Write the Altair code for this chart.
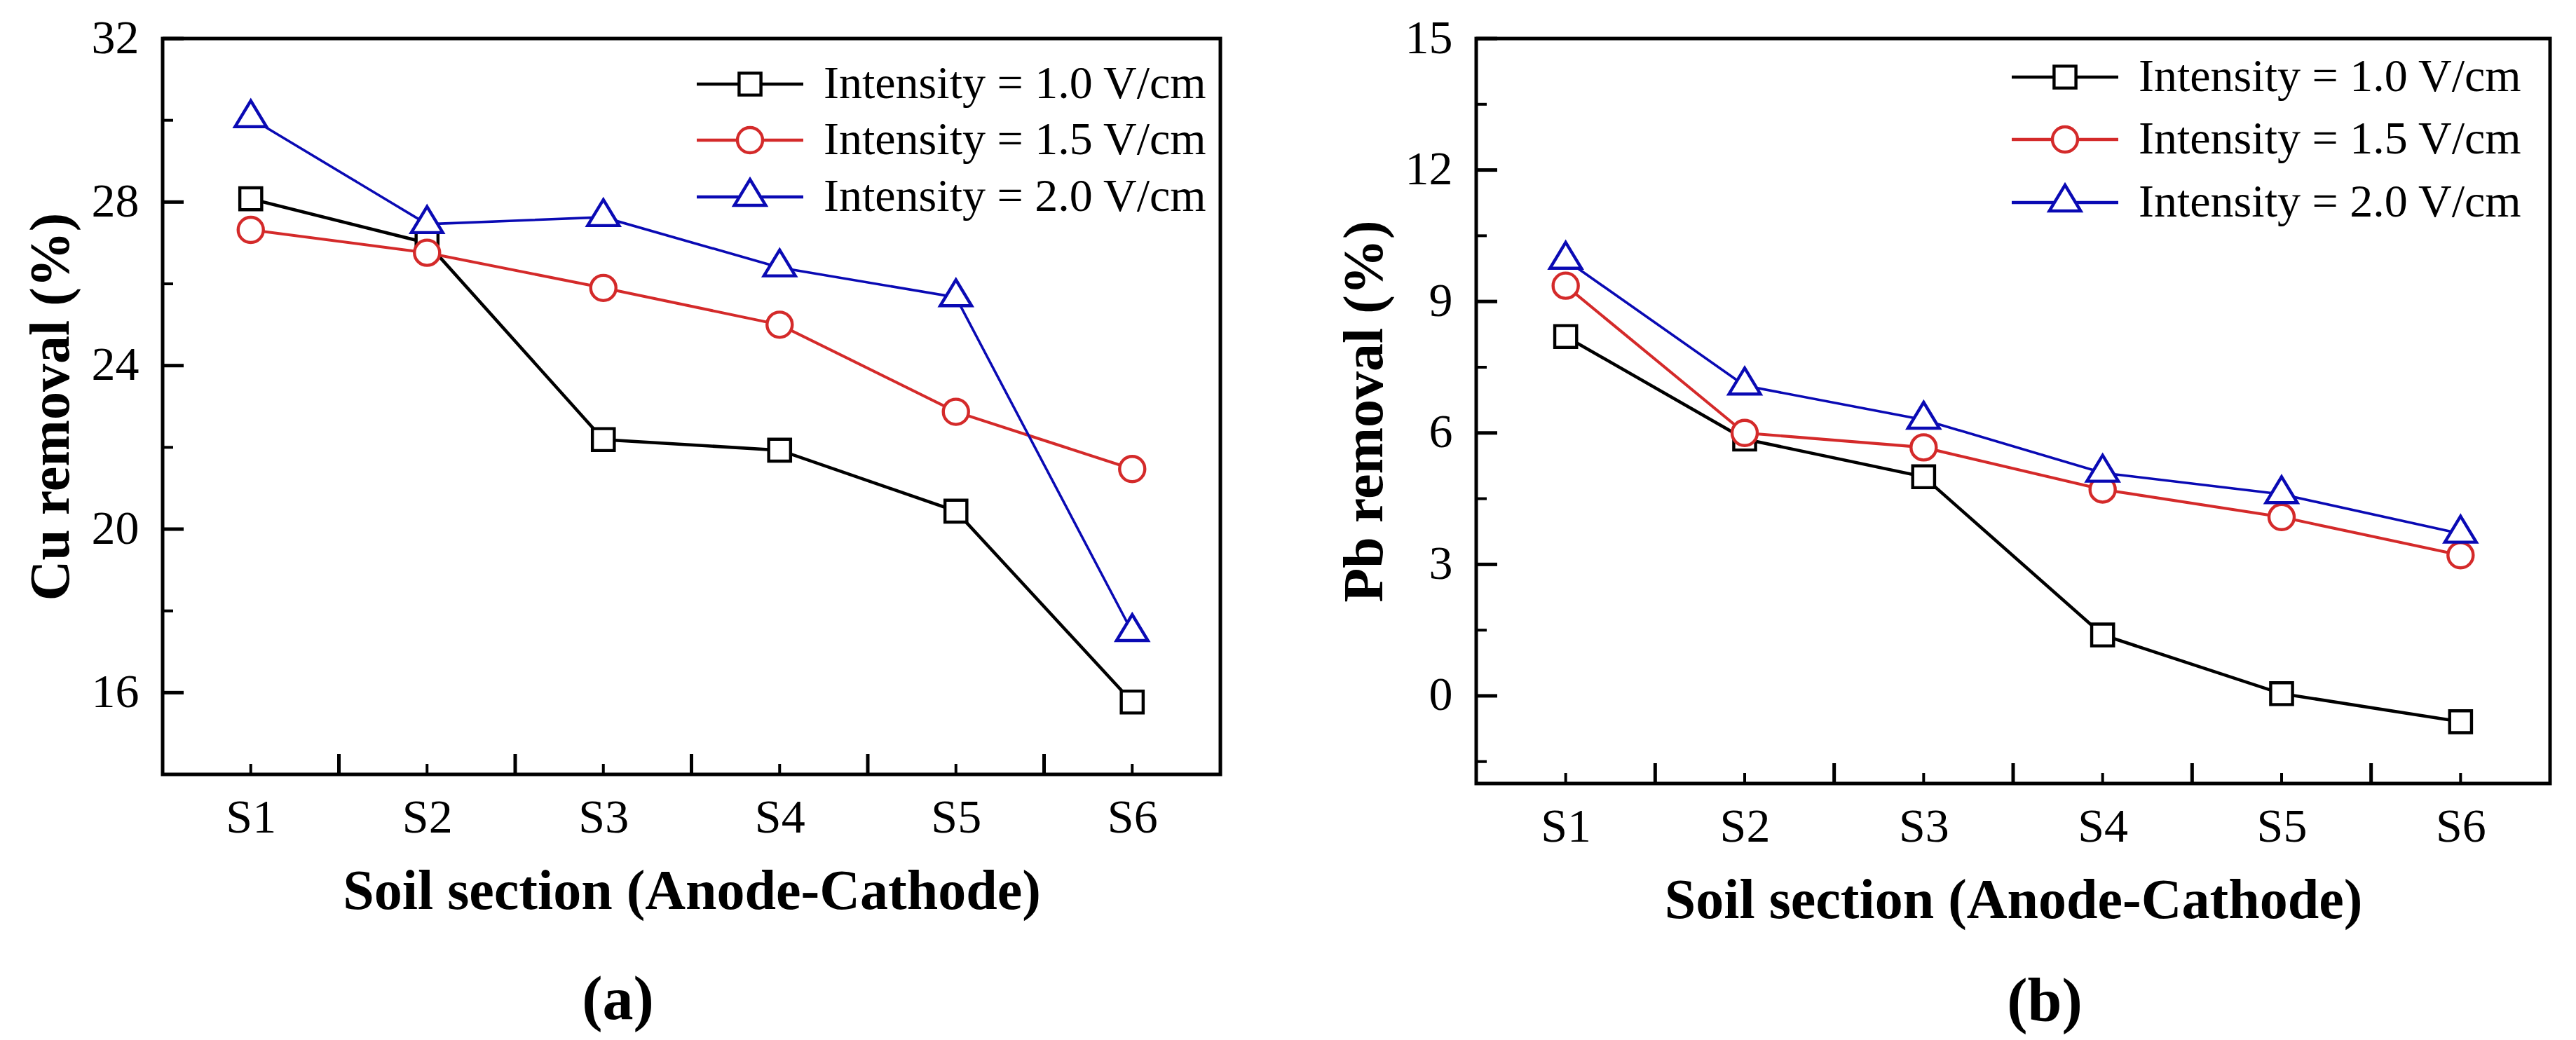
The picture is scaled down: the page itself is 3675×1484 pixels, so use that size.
import json
import altair as alt
import pandas as pd

# ---------------- data ----------------
sections = ["S1", "S2", "S3", "S4", "S5", "S6"]
series_labels = ["Intensity = 1.0 V/cm", "Intensity = 1.5 V/cm", "Intensity = 2.0 V/cm"]

cu_10 = [28.08, 27.0, 22.19, 21.93, 20.44, 15.77]
cu_15 = [27.32, 26.76, 25.9, 25.0, 22.87, 21.47]
cu_20 = [30.05, 27.46, 27.63, 26.4, 25.67, 17.48]

pb_10 = [8.2, 5.86, 5.0, 1.39, 0.05, -0.59]
pb_15 = [9.36, 6.0, 5.67, 4.71, 4.08, 3.21]
pb_20 = [9.95, 7.08, 6.3, 5.09, 4.6, 3.7]

cu_major = [16, 20, 24, 28, 32]
cu_minor = [18, 22, 26, 30]
pb_major = [0, 3, 6, 9, 12, 15]
pb_minor = [-1.5, 1.5, 4.5, 7.5, 10.5, 13.5]

colors = ["#000000", "#d42a2a", "#0a0ab4"]
line_widths = [4.6, 3.6, 4.3]

# marker paths (unit = sqrt(size)/2)
m_square = "M-0.78,-0.78H0.78V0.78H-0.78Z"
m_circle = "M0.9,0A0.9,0.9 0 1,1 -0.9,0A0.9,0.9 0 1,1 0.9,0Z"
m_tri = "M0,-1.25L1.12,0.6H-1.12Z"
marker_paths = [m_square, m_circle, m_tri]

L = 3.8
leg_paths = [
    f"M-{L},0H-0.78M0.78,0H{L}M-0.78,-0.78H0.78V0.78H-0.78Z",
    f"M-{L},0H-0.9M0.9,0H{L}M0.9,0A0.9,0.9 0 1,1 -0.9,0A0.9,0.9 0 1,1 0.9,0Z",
    f"M-{L},0H-0.76M0.76,0H{L}M0,-1.25L1.12,0.6H-1.12Z",
]

positions = list(range(1, len(sections) + 1))
half_positions = [p + 0.5 for p in positions[:-1]]
label_expr = f"{json.dumps(sections)}[datum.value - 1]"

FONT = "Liberation Serif"
SIZE = 1600
MSW = 4.4


def make_panel(vals, ytitle, ydomain, ymajor, yminor, W, H, legx, legy, rowpad, caption, capdx, caption_offset):
    rows = []
    for lab, v in zip(series_labels, vals):
        for p, s, y in zip(positions, sections, v):
            rows.append({"Series": lab, "pos": p, "Section": s, "val": y})
    df = pd.DataFrame(rows)

    xs = alt.Scale(domain=[0.5, len(sections) + 0.5], nice=False, zero=False)
    ys = alt.Scale(domain=ydomain, nice=False, zero=False)

    x_axis = alt.Axis(values=positions, labelExpr=label_expr, ticks=False, domain=False, grid=False,
                      labelPadding=28, title="Soil section (Anode-Cathode)", titlePadding=32)
    y_axis = alt.Axis(values=ymajor, format="d", ticks=False, domain=False, grid=False, labelPadding=34,
                      title=ytitle, titlePadding=16)

    color_scale = alt.Scale(domain=series_labels, range=colors)

    lines = alt.Chart(df).mark_line().encode(
        x=alt.X("pos:Q", scale=xs, axis=x_axis),
        y=alt.Y("val:Q", scale=ys, axis=y_axis),
        color=alt.Color("Series:N", scale=color_scale, legend=None),
        strokeWidth=alt.StrokeWidth("Series:N", scale=alt.Scale(domain=series_labels, range=line_widths),
                                    legend=None),
        detail="Series:N",
    )
    points = alt.Chart(df).mark_point(filled=False, fill="white", strokeWidth=MSW, size=SIZE, opacity=1).encode(
        x=alt.X("pos:Q", scale=xs),
        y=alt.Y("val:Q", scale=ys),
        color=alt.Color("Series:N", scale=color_scale, legend=None),
        shape=alt.Shape("Series:N", scale=alt.Scale(domain=series_labels, range=marker_paths), legend=None),
    )
    leg = alt.Legend(orient="none", legendX=legx, legendY=legy, title=None,
                     labelFont=FONT, labelFontSize=66, labelColor="black",
                     labelOffset=72, symbolSize=SIZE, symbolStrokeWidth=MSW,
                     rowPadding=rowpad, labelLimit=1000, padding=0)
    leg_df = pd.DataFrame({"Series": series_labels})
    legend_layer = alt.Chart(leg_df).transform_filter("false").mark_point(
        filled=False, strokeWidth=MSW, size=SIZE, opacity=1
    ).encode(
        x=alt.X("pos:Q", scale=xs),
        y=alt.Y("val:Q", scale=ys),
        color=alt.Color("Series:N", scale=alt.Scale(domain=series_labels, range=colors), legend=leg),
        shape=alt.Shape("Series:N", scale=alt.Scale(domain=series_labels, range=leg_paths), legend=leg),
    )

    ymaj_df = pd.DataFrame({"v": ymajor})
    ymin_df = pd.DataFrame({"v": yminor})
    ytick_major = alt.Chart(ymaj_df).mark_rule(color="black", strokeWidth=5).encode(
        y=alt.Y("v:Q", scale=ys), x=alt.value(0), x2=alt.value(30))
    ytick_minor = alt.Chart(ymin_df).mark_rule(color="black", strokeWidth=4).encode(
        y=alt.Y("v:Q", scale=ys), x=alt.value(0), x2=alt.value(15))
    xmaj_df = pd.DataFrame({"p": half_positions})
    xmin_df = pd.DataFrame({"p": positions})
    xtick_major = alt.Chart(xmaj_df).mark_rule(color="black", strokeWidth=5).encode(
        x=alt.X("p:Q", scale=xs), y=alt.value(H), y2=alt.value(H - 29))
    xtick_minor = alt.Chart(xmin_df).mark_rule(color="black", strokeWidth=4).encode(
        x=alt.X("p:Q", scale=xs), y=alt.value(H), y2=alt.value(H - 15))

    chart = alt.layer(
        ytick_major, ytick_minor, xtick_major, xtick_minor, lines, points, legend_layer
    ).resolve_scale(color="independent", shape="independent", strokeWidth="independent").properties(
        width=W, height=H,
        title=alt.TitleParams(caption, orient="bottom", font=FONT, fontSize=88, fontWeight="bold",
                              color="black", dx=capdx, offset=caption_offset, anchor="middle"),
    )
    return chart


panel_a = make_panel([cu_10, cu_15, cu_20], "Cu removal (%)", [14, 32], cu_major, cu_minor,
                     1509, 1050, 805, 32, 14, "(a)", -105, 72)
panel_b = make_panel([pb_10, pb_15, pb_20], "Pb removal (%)", [-2, 15], pb_major, pb_minor,
                     1532, 1063, 807, 22, 23, "(b)", 45, 62)

chart = alt.hconcat(panel_a, panel_b, spacing=160).configure(
    padding={"left": 22, "top": 10, "right": 10, "bottom": 5}
).configure_view(stroke="black", strokeWidth=5).configure_axis(
    labelFont=FONT, labelFontSize=68, labelColor="black",
    titleFont=FONT, titleFontSize=80, titleFontWeight="bold", titleColor="black",
).configure_legend(labelFont=FONT)

chart.save("out.html", embed_options={"renderer": "svg", "actions": False})
